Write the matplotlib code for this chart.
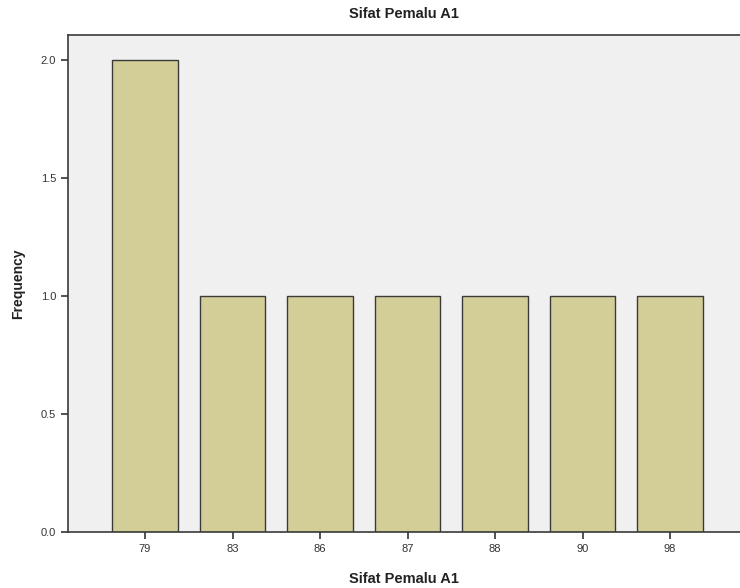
import matplotlib
matplotlib.use("Agg")
import matplotlib.pyplot as plt

plt.rcParams['font.family'] = ['Liberation Sans', 'DejaVu Sans']

categories = ["79", "83", "86", "87", "88", "90", "98"]
frequency = [2, 1, 1, 1, 1, 1, 1]
yticks = [0.0, 0.5, 1.0, 1.5, 2.0]

fig = plt.figure(figsize=(7.4, 5.88), dpi=100)
ax = fig.add_axes([68/740, 56/588, 1 - 68/740, (532-35)/588])
ax.set_facecolor('#F0F0F0')
x = list(range(len(categories)))
ax.bar(x, frequency, width=0.754, color='#D3CE97', edgecolor='#3a3a3a', linewidth=1.0, zorder=2)
ax.set_xlim(-0.88, 6.8)
ax.set_ylim(0, 2.106)
ax.set_xticks(x)
ax.set_xticklabels(categories)
ax.set_yticks(yticks)
ax.set_yticklabels([f"{v:.1f}" for v in yticks])
ax.tick_params(axis='both', labelsize=8, colors='#333333', length=5, width=1.2)
for s in ['left', 'top', 'bottom']:
    ax.spines[s].set_color('#3a3a3a')
    ax.spines[s].set_linewidth(1.2)
ax.spines['right'].set_visible(False)
ax.set_title("Sifat Pemalu A1", fontsize=10.5, fontweight='bold', color='#222222', pad=12)
ax.set_ylabel("Frequency", fontsize=10, fontweight='bold', color='#222222', labelpad=11)
ax.set_xlabel("Sifat Pemalu A1", fontsize=10.5, fontweight='bold', color='#222222', labelpad=13)
fig.savefig("out.png", dpi=100)
